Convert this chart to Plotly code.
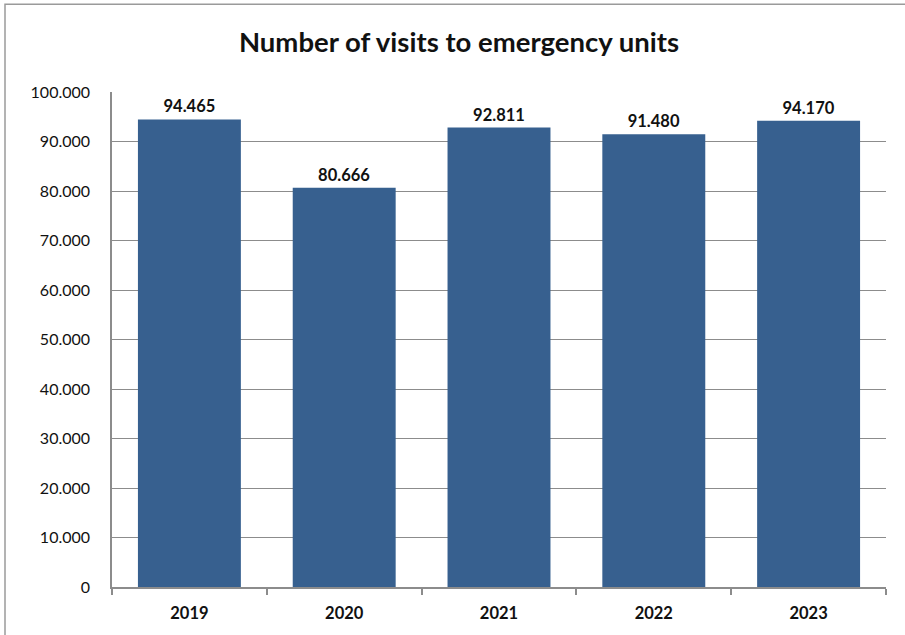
import plotly.graph_objects as go

years = ["2019", "2020", "2021", "2022", "2023"]
visits = [94465, 80666, 92811, 91480, 94170]
title_text = "Number of visits to emergency units"

W, H = 905, 635
L, T = 112, 92
pw, ph = 774, 497
R, B = W - L - pw, H - T - ph

fig = go.Figure(go.Bar(
    x=years, y=visits,
    marker=dict(color="#37608f", line=dict(width=0)),
    text=visits, texttemplate="%{y:,}", textposition="outside",
    textfont=dict(family="Lato", size=16.5, color="#111111", weight="bold"),
    cliponaxis=False,
))

fig.update_layout(
    width=W, height=H,
    margin=dict(l=L, r=R, t=T, b=B, pad=0),
    paper_bgcolor="white", plot_bgcolor="white",
    separators=",.",
    bargap=0.335,
    showlegend=False,
    title=dict(text="<b>" + title_text + "</b>", xref="container", yref="container",
               x=459 / W, y=1 - 42 / H, xanchor="center", yanchor="middle",
               font=dict(family="Lato", size=27.5, color="#111111")),
    font=dict(family="Lato", size=16, color="#111111"),
    xaxis=dict(type="category", showline=True, linecolor="#8c8c8c", linewidth=1.5,
               ticks="outside", tickson="boundaries", ticklen=6, tickcolor="#8c8c8c",
               tickwidth=1.5, showgrid=False, ticklabelstandoff=10,
               tickfont=dict(family="Lato", size=16.5, color="#111111", weight="bold")),
    yaxis=dict(range=[0, 100000], dtick=10000, tickformat=",d",
               showline=True, linecolor="#8c8c8c", linewidth=1.5,
               showgrid=True, gridcolor="#8c8c8c", gridwidth=1.2,
               ticks="", ticklabelstandoff=17, zeroline=False,
               tickfont=dict(family="Lato", size=16, color="#111111")),
    shapes=[dict(type="rect", xref="paper", yref="paper",
                 x0=(5 - L) / pw, x1=1.2, y0=-0.3, y1=1 + (T - 4) / ph,
                 line=dict(color="#9a9a9a", width=1.5), fillcolor="rgba(0,0,0,0)",
                 layer="below")],
)

fig.write_html("out.html", config={"displayModeBar": False},
               post_script="document.body.style.margin='0px';")
